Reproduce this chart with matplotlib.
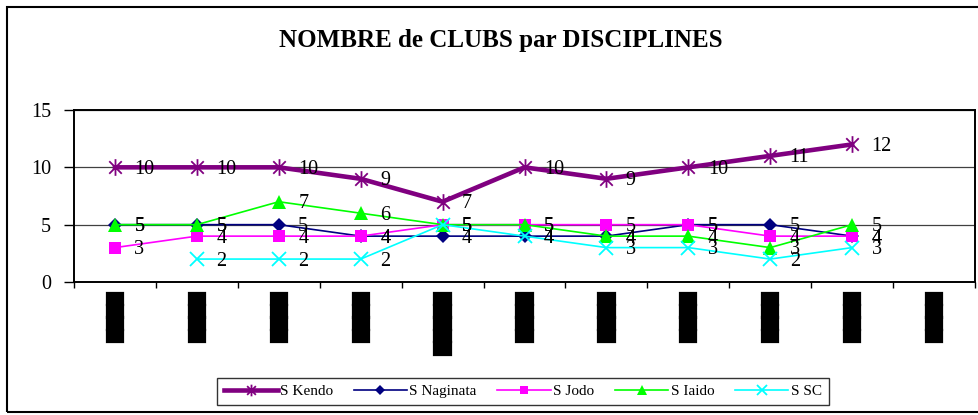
import numpy as np
import matplotlib
matplotlib.use('Agg')
import matplotlib.pyplot as plt
import matplotlib.patheffects as pe
from matplotlib.path import Path
from matplotlib.patches import Rectangle

# ---------------- data ----------------
categories = ['████', '████', '████', '████', '█████', '████',
              '████', '████', '████', '████', '████']
kendo = [10, 10, 10, 9, 7, 10, 9, 10, 11, 12, np.nan]
naginata = [5, 5, 5, 4, 4, 4, 4, 5, 5, 4, np.nan]
jodo = [3, 4, 4, 4, 5, 5, 5, 5, 4, 4, np.nan]
iaido = [5, 5, 7, 6, 5, 5, 4, 4, 3, 5, np.nan]
sc = [np.nan, 2, 2, 2, 5, 4, 3, 3, 2, 3, np.nan]
series_names = ['S Kendo', 'S Naginata', 'S Jodo', 'S Iaido', 'S SC']
yticks = [0, 5, 10, 15]
title = 'NOMBRE de CLUBS par DISCIPLINES'

# ---------------- styles ----------------
W, H = 979, 415
serif = 'Liberation Serif'

star = Path([(0, -1), (0, 1), (-0.75, -0.75), (0.75, 0.75), (-0.75, 0.75), (0.75, -0.75)],
            [Path.MOVETO, Path.LINETO] * 3)

styles = [
    dict(color='#800080', lw=3.3, marker=star, ms=12, mew=1.3, mfc='none', mec='#800080'),
    dict(color='#000080', lw=1.2, marker='D', ms=7, mew=0, mfc='#000080', mec='#000080'),
    dict(color='#FF00FF', lw=1.2, marker='s', ms=8.5, mew=0, mfc='#FF00FF', mec='#FF00FF'),
    dict(color='#00FF00', lw=1.2, marker='^', ms=10, mew=0, mfc='#00FF00', mec='#00FF00'),
    dict(color='#00FFFF', lw=1.2, marker='x', ms=10, mew=1.3, mfc='#00FFFF', mec='#00FFFF'),
]
series = [kendo, naginata, jodo, iaido, sc]

fig = plt.figure(figsize=(W / 100, H / 100), dpi=100)
ax = fig.add_axes([74 / W, 1 - 282 / H, (975 - 74) / W, (282 - 110) / H])

x = np.arange(len(categories))
handles = []
for vals, name, st in zip(series, series_names, styles):
    ln, = ax.plot(x, vals, color=st['color'], lw=st['lw'], marker=st['marker'],
                  markersize=st['ms'], markeredgewidth=st['mew'],
                  markerfacecolor=st['mfc'], markeredgecolor=st['mec'],
                  label=name, zorder=3, clip_on=False)
    handles.append(ln)

for vals in series:
    for xi, v in zip(x, vals):
        if np.isnan(v):
            continue
        ax.annotate(f'{int(v)}', (xi, v), xytext=(14, -1.5), textcoords='offset points',
                    ha='left', va='center', fontsize=14.5, family=serif,
                    color='black', zorder=5)

ax.set_xlim(-0.5, len(categories) - 0.5)
ax.set_ylim(0, 15)
ax.set_yticks(yticks)
ax.set_yticklabels([str(t) for t in yticks], family=serif, fontsize=14.5)
ax.tick_params(axis='y', direction='out', length=7, width=1, pad=9.5)
ax.yaxis.grid(True, color='#404040', lw=0.9)
ax.set_axisbelow(True)

ax.set_xticks(x)
ax.set_xticklabels(categories, rotation=90, family='DejaVu Sans', fontsize=11.5,
                   va='top', ha='center')
for t in ax.get_xticklabels():
    t.set_path_effects([pe.withStroke(linewidth=1.6, foreground='black',
                                      joinstyle='miter', capstyle='projecting')])
ax.tick_params(axis='x', which='major', length=0, pad=8)
ax.set_xticks(np.arange(-0.5, len(categories)), minor=True)
ax.tick_params(axis='x', which='minor', direction='out', length=4, width=1)

for s in ax.spines.values():
    s.set_linewidth(1.4)
    s.set_color('black')

fig.text(501 / W, 1 - 40 / H, title, ha='center', va='center',
         family=serif, fontweight='bold', fontsize=18)

# chart area border
fig.patches.append(Rectangle((7 / W, 1 - 412 / H), 1.2, (412 - 7) / H,
                             transform=fig.transFigure, fill=False,
                             edgecolor='black', lw=1.5))

leg = fig.legend(handles, series_names, loc='center',
                 bbox_to_anchor=(523 / W, 1 - 391.5 / H), ncol=5,
                 frameon=True, fancybox=False, edgecolor='black',
                 prop=dict(family=serif, size=11), handlelength=3.5,
                 handletextpad=0.15, columnspacing=1.35, borderpad=0.45)
leg.get_frame().set_linewidth(1.0)
for h in leg.legend_handles:
    h.set_markersize(h.get_markersize() * 0.7)

fig.savefig('out.png', dpi=100)
